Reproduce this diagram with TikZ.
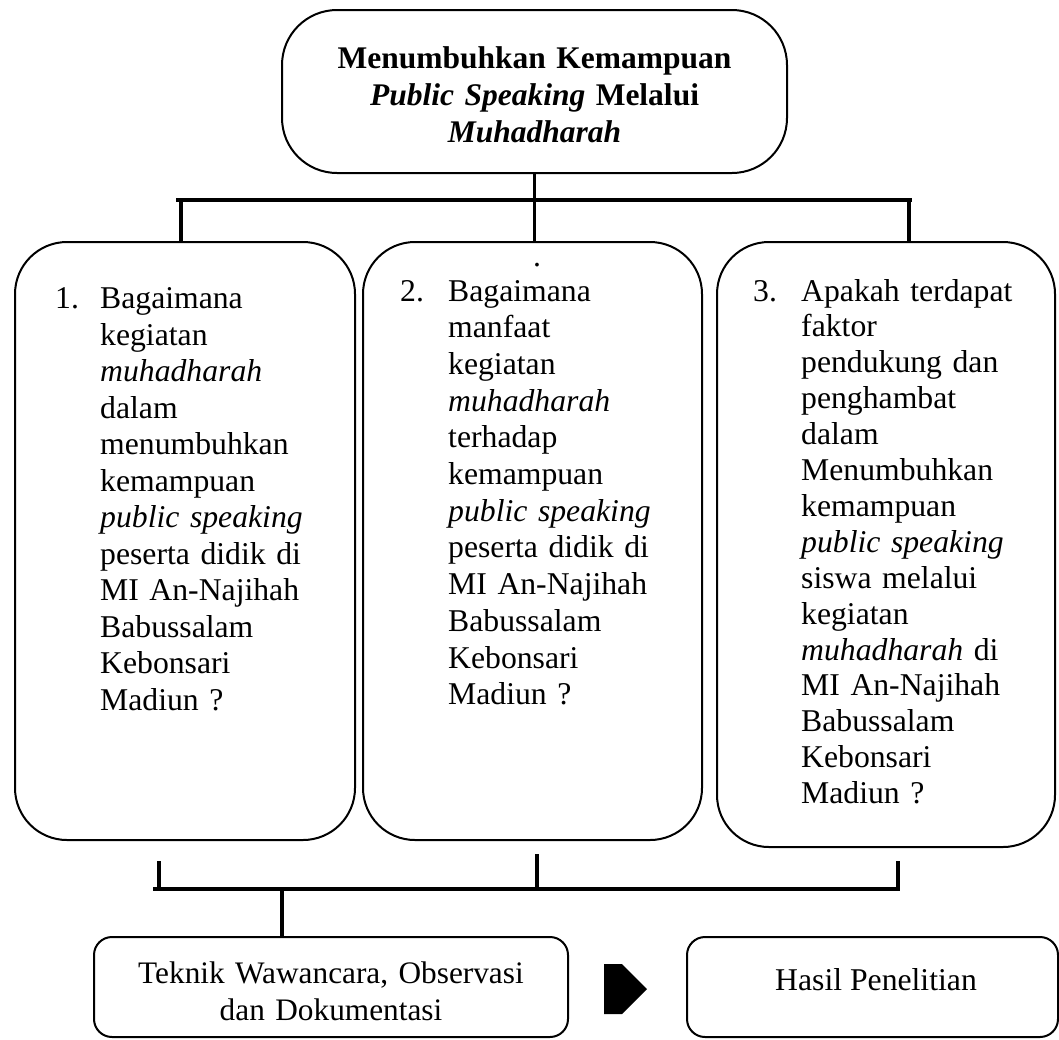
\documentclass[tikz,border=0pt]{standalone}
\usepackage{fontspec}
\setmainfont{Liberation Serif}
\newcommand{\jl}[1]{\makebox[215pt][s]{#1}}
\begin{document}
\begin{tikzpicture}[x=1pt,y=-1pt,
  box/.style={draw, line width=2pt, rounded corners=52pt, inner sep=0pt},
  sbox/.style={draw, line width=2pt, rounded corners=18pt, inner sep=0pt},
  conn/.style={line width=3.6pt},
  qtext/.style={anchor=base west, inner sep=0pt, text width=215pt, align=left},
  num/.style={anchor=base west, inner sep=0pt},
  qfont/.style={font=\fontsize{31.7}{#1}\selectfont}]
\useasboundingbox (0,0) rectangle (1059,1039);

% boxes
\node[box, rounded corners=55pt, minimum width=505pt, minimum height=163pt] (t) at (534.5,91.5) {};
\node[box, minimum width=340pt, minimum height=598pt] (q1) at (185,541) {};
\node[box, minimum width=339pt, minimum height=598pt] (q2) at (532.5,541) {};
\node[box, minimum width=338pt, minimum height=605pt] (q3) at (886,544.5) {};
\node[sbox, minimum width=474pt, minimum height=100pt] (tek) at (331,987) {};
\node[sbox, minimum width=371pt, minimum height=100pt] (hasil) at (872.5,987) {};

% title
\node[anchor=base, inner sep=0pt, text width=480pt, align=center,
      font=\bfseries\fontsize{31.5}{37}\selectfont] (tt) at (534.5,68)
  {Menumbuhkan Kemampuan\\ \textit{Public Speaking} Melalui\\ \textit{Muhadharah}};

% question 1
\node[num, qfont=36.5] (n1) at (55,308.5) {1.};
\node[qtext, qfont=36.5] (q1t) at (100,308.5)
  {Bagaimana\\ kegiatan\\ \textit{muhadharah}\\ dalam\\ menumbuhkan\\ kemampuan\\
   \jl{\textit{public speaking}}\\ \jl{peserta didik di}\\ \jl{MI An-Najihah}\\
   Babussalam\\ Kebonsari\\ Madiun ?};

% question 2
\node[anchor=base, inner sep=0pt, qfont=36.7] (dot) at (537,266) {.};
\node[num, qfont=36.7] (n2) at (400,301) {2.};
\node[qtext, qfont=36.7] (q2t) at (448,301)
  {Bagaimana\\ manfaat\\ kegiatan\\ \textit{muhadharah}\\ terhadap\\ kemampuan\\
   \jl{\textit{public speaking}}\\ \jl{peserta didik di}\\ \jl{MI An-Najihah}\\
   Babussalam\\ Kebonsari\\ Madiun ?};

% question 3
\node[num, qfont=35.9] (n3) at (753,301) {3.};
\node[qtext, qfont=35.9] (q3t) at (801,301)
  {\jl{Apakah terdapat}\\ faktor\\ \jl{pendukung dan}\\ penghambat\\ dalam\\ Menumbuhkan\\
   kemampuan\\ \jl{\textit{public speaking}}\\ \jl{siswa melalui}\\ kegiatan\\
   \jl{\textit{muhadharah} di}\\ \jl{MI An-Najihah}\\ Babussalam\\ Kebonsari\\ Madiun ?};

% bottom texts
\node[anchor=base, inner sep=0pt, text width=460pt, align=center,
      font=\fontsize{31.3}{37}\selectfont] (tekt) at (331,983)
  {Teknik Wawancara, Observasi\\ dan Dokumentasi};
\node[anchor=base, inner sep=0pt, font=\fontsize{31.7}{37}\selectfont] (hasilt) at (876,990)
  {Hasil Penelitian};

% top connectors
\coordinate (tb1) at (176,200);
\coordinate (tb2) at (912,200);
\coordinate (d1) at (181,200);
\coordinate (d3) at (909,200);
\draw[conn] (tb1) -- (tb2);
\draw[conn] (t.south) -- (t.south |- q2.north);
\draw[conn] (d1) -- (d1 |- q1.north);
\draw[conn] (d3) -- (d3 |- q3.north);

% bottom connectors
\coordinate (bl) at (153,889);
\coordinate (br) at (900,889);
\coordinate (b1) at (159,861);
\coordinate (b2) at (537,854);
\coordinate (b3) at (898,861);
\coordinate (bd) at (282,889);
\draw[conn] (bl) -- (br);
\draw[conn] (b1) -- (b1 |- bl);
\draw[conn] (b2) -- (b2 |- bl);
\draw[conn] (b3) -- (b3 |- bl);
\draw[conn] (bd) -- (bd |- tek.north);

% arrow between bottom boxes
\fill (604,964) -- (622,964) -- (647,989) -- (622,1014) -- (604,1014) -- cycle;
\end{tikzpicture}
\end{document}
